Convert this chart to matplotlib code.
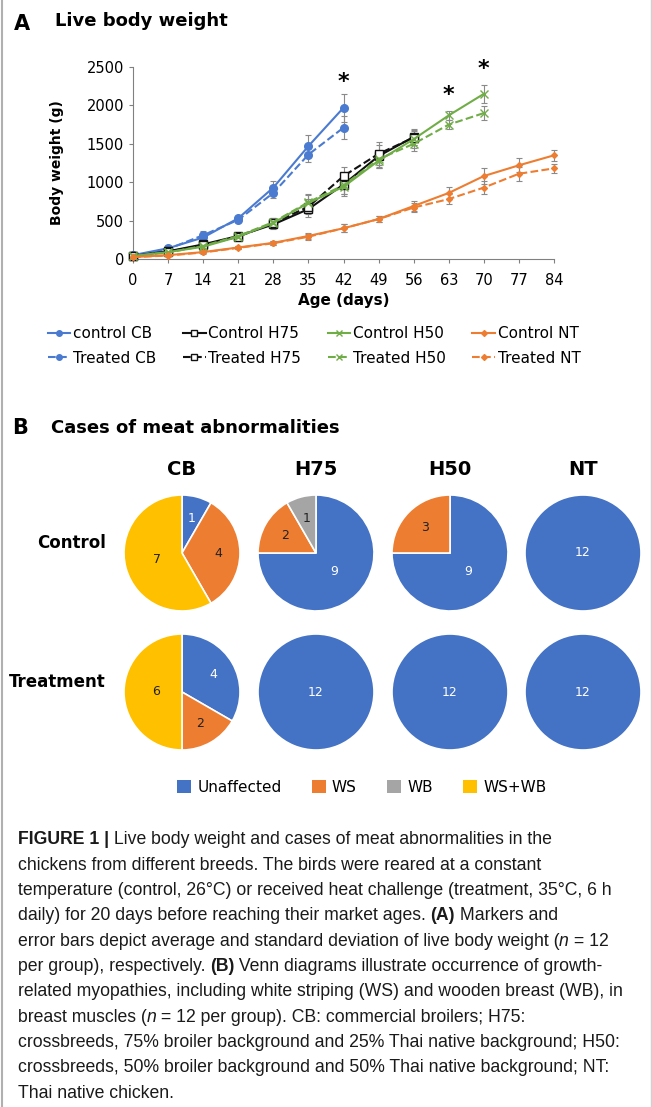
import matplotlib
matplotlib.use("Agg")
import matplotlib.pyplot as plt
from matplotlib.lines import Line2D
from matplotlib.patches import Patch
import numpy as np

W, H = 652, 1107

# === data: live body weight (g) ===
days = [0, 7, 14, 21, 28, 35, 42, 49, 56, 63, 70, 77, 84]
cb_ctrl = [50, 140, 280, 530, 930, 1470, 1970]
cb_trt = [45, 130, 310, 510, 860, 1360, 1710]
cb_ctrl_sd = [15, 25, 60, 35, 90, 140, 180]
cb_trt_sd = [15, 25, 50, 30, 70, 100, 150]
h75_ctrl = [40, 100, 190, 300, 450, 650, 970, 1340, 1590]
h75_trt = [40, 95, 180, 290, 470, 680, 1080, 1370, 1580]
h75_ctrl_sd = [10, 20, 35, 40, 60, 100, 120, 150, 100]
h75_trt_sd = [10, 20, 35, 40, 60, 100, 120, 150, 100]
h50_ctrl = [40, 90, 160, 290, 470, 730, 940, 1280, 1560, 1870, 2150]
h50_trt = [40, 85, 170, 300, 480, 740, 960, 1300, 1500, 1750, 1900]
h50_ctrl_sd = [10, 20, 30, 40, 60, 100, 120, 100, 110, 60, 120]
h50_trt_sd = [10, 20, 30, 40, 60, 100, 120, 100, 100, 60, 90]
nt_ctrl = [25, 50, 90, 150, 210, 300, 400, 520, 690, 860, 1080, 1220, 1350]
nt_trt = [25, 45, 85, 145, 205, 290, 400, 520, 670, 780, 930, 1110, 1180]
nt_ctrl_sd = [5, 10, 15, 20, 25, 40, 50, 40, 60, 80, 100, 90, 70]
nt_trt_sd = [5, 10, 15, 20, 25, 40, 50, 40, 60, 70, 80, 90, 60]
star_days = [42, 63, 70]
star_y = [2300, 2130, 2470]

# === data: meat abnormalities (cases out of 12) ===
breeds = ["CB", "H75", "H50", "NT"]
categories = ["Unaffected", "WS", "WB", "WS+WB"]
cat_colors = ["#4472C4", "#ED7D31", "#A5A5A5", "#FFC000"]
control_cases = [[1, 4, 0, 7], [9, 2, 1, 0], [9, 3, 0, 0], [12, 0, 0, 0]]
treatment_cases = [[4, 2, 0, 6], [12, 0, 0, 0], [12, 0, 0, 0], [12, 0, 0, 0]]

BLUE, BLACK, GREEN, ORANGE = "#4A7BD0", "#111111", "#70AD47", "#ED7D31"

fig = plt.figure(figsize=(W / 100, H / 100), dpi=100)
fig.patch.set_facecolor("white")

def fx(x):
    return x / W

def fy(y):
    return 1 - y / H

# frame lines at the edges
fig.add_artist(Line2D([fx(1.5), fx(1.5)], [0, 1], color="#B0B0B0", lw=1.5))
fig.add_artist(Line2D([fx(650.5), fx(650.5)], [0, 1], color="#D0D0D0", lw=1))

# === A: line chart ===
fig.text(fx(14), fy(24), "A", fontsize=15, fontweight="bold", va="center")
fig.text(fx(55), fy(21), "Live body weight", fontsize=13, fontweight="bold", va="center")

ax = fig.add_axes([fx(133), fy(259), 421 / W, 192 / H])
series = [
    (cb_ctrl, cb_ctrl_sd, BLUE, "o", "-", "control CB", True),
    (cb_trt, cb_trt_sd, BLUE, "o", "--", "Treated CB", True),
    (h75_ctrl, h75_ctrl_sd, BLACK, "s", "-", "Control H75", False),
    (h75_trt, h75_trt_sd, BLACK, "s", "--", "Treated H75", False),
    (h50_ctrl, h50_ctrl_sd, GREEN, "x", "-", "Control H50", True),
    (h50_trt, h50_trt_sd, GREEN, "x", "--", "Treated H50", True),
    (nt_ctrl, nt_ctrl_sd, ORANGE, "D", "-", "Control NT", True),
    (nt_trt, nt_trt_sd, ORANGE, "D", "--", "Treated NT", True),
]
handles = []
for vals, sd, col, mk, ls, lab, filled in series:
    d = days[:len(vals)]
    ms = 3 if mk == "D" else 5.5
    fc = col if filled else "white"
    ax.errorbar(d, vals, yerr=sd, color=col, ls=ls, lw=1.5, marker=mk, ms=ms,
                mfc=fc, mec=col, ecolor="#8A8A8A", elinewidth=0.8, capsize=2,
                capthick=0.8, clip_on=False, zorder=3)
    handles.append(Line2D([], [], color=col, ls=ls, lw=1.5, marker=mk, ms=min(ms, 4),
                          mfc=fc, mec=col, label=lab))
for d, y in zip(star_days, star_y):
    ax.text(d, y, "*", fontsize=16, fontweight="bold", ha="center", va="center")

ax.set_xlim(0, 84)
ax.set_ylim(0, 2500)
ax.set_xticks(days)
ax.set_yticks([0, 500, 1000, 1500, 2000, 2500])
ax.tick_params(labelsize=10.5, color="#808080", length=3)
ax.tick_params(axis="x", pad=7)
for s in ["top", "right"]:
    ax.spines[s].set_visible(False)
for s in ["left", "bottom"]:
    ax.spines[s].set_color("#808080")
ax.set_xlabel("Age (days)", fontsize=11, fontweight="bold", labelpad=4)
ax.set_ylabel("Body weight (g)", fontsize=10, fontweight="bold", labelpad=16)

fig.legend(handles=handles, ncol=4, loc="center", bbox_to_anchor=(fx(314), fy(346)),
           frameon=False, fontsize=11, handlelength=1.5, handletextpad=0.15,
           columnspacing=1.75, labelspacing=0.6)

# === B: pies ===
fig.text(fx(12), fy(428), "B", fontsize=15, fontweight="bold", va="center")
fig.text(fx(51), fy(428), "Cases of meat abnormalities", fontsize=13, fontweight="bold", va="center")

col_x = [182, 316, 450, 583]
row_y = [553, 692]
R = 58
for cx, name in zip(col_x, breeds):
    fig.text(fx(cx), fy(470), name, fontsize=14, fontweight="bold", ha="center", va="center")
fig.text(fx(106), fy(543), "Control", fontsize=12, fontweight="bold", ha="right", va="center")
fig.text(fx(106), fy(682), "Treatment", fontsize=12, fontweight="bold", ha="right", va="center")

for ry, rows in zip(row_y, [control_cases, treatment_cases]):
    for cx, counts in zip(col_x, rows):
        pax = fig.add_axes([fx(cx - R), fy(ry + R), 2 * R / W, 2 * R / H])
        vals = [c for c in counts if c > 0]
        cols = [cat_colors[i] for i, c in enumerate(counts) if c > 0]
        wedges, _ = pax.pie(vals, colors=cols, startangle=90, counterclock=False,
                            wedgeprops=dict(edgecolor="white", linewidth=1.2))
        tot = sum(vals)
        for w, v, c in zip(wedges, vals, cols):
            if v == tot:
                px, py = 0, 0
            else:
                ang = np.deg2rad((w.theta1 + w.theta2) / 2)
                rr = 0.62 if v < 5 else 0.45
                px, py = rr * np.cos(ang), rr * np.sin(ang)
            tc = "white" if c == cat_colors[0] else "#222222"
            pax.text(px, py, str(v), ha="center", va="center", fontsize=9, color=tc)
        pax.set_aspect("auto")
        pax.set_xlim(-1, 1)
        pax.set_ylim(-1, 1)
        pax.axis("off")

pie_handles = [Patch(facecolor=c, edgecolor="none", label=l) for c, l in zip(cat_colors, categories)]
fig.legend(handles=pie_handles, ncol=4, loc="center", bbox_to_anchor=(fx(362), fy(787)),
           frameon=False, fontsize=11, handlelength=0.9, handleheight=0.9,
           handletextpad=0.4, columnspacing=2.0)

# === caption ===
cap_font = ["Liberation Sans", "DejaVu Sans"]
cap_size = 12.7
NB, BB, IT = {}, {"fontweight": "bold"}, {"style": "italic"}
caption = [
    [("FIGURE 1 |", BB), (" Live body weight and cases of meat abnormalities in the", NB)],
    [("chickens from different breeds. The birds were reared at a constant", NB)],
    [("temperature (control, 26°C) or received heat challenge (treatment, 35°C, 6 h", NB)],
    [("daily) for 20 days before reaching their market ages. ", NB), ("(A)", BB), (" Markers and", NB)],
    [("error bars depict average and standard deviation of live body weight (", NB), ("n", IT), (" = 12", NB)],
    [("per group), respectively. ", NB), ("(B)", BB), (" Venn diagrams illustrate occurrence of growth-", NB)],
    [("related myopathies, including white striping (WS) and wooden breast (WB), in", NB)],
    [("breast muscles (", NB), ("n", IT), (" = 12 per group). CB: commercial broilers; H75:", NB)],
    [("crossbreeds, 75% broiler background and 25% Thai native background; H50:", NB)],
    [("crossbreeds, 50% broiler background and 50% Thai native background; NT:", NB)],
    [("Thai native chicken.", NB)],
]
renderer = fig.canvas.get_renderer()

def seg_width(txt, kw):
    a = fig.text(0, 0, "|" + txt + "|", fontsize=cap_size, family=cap_font, **kw)
    b = fig.text(0, 0, "||", fontsize=cap_size, family=cap_font, **kw)
    w = a.get_window_extent(renderer).width - b.get_window_extent(renderer).width
    a.remove()
    b.remove()
    return w

for i, line in enumerate(caption):
    x = 17.5
    y = 840 + i * 25.3
    for txt, kw in line:
        fig.text(fx(x), fy(y), txt, fontsize=cap_size, family=cap_font, va="center",
                 color="#1a1a1a", **kw)
        x += seg_width(txt, kw)

fig.savefig("out.png", dpi=100, facecolor="white")
